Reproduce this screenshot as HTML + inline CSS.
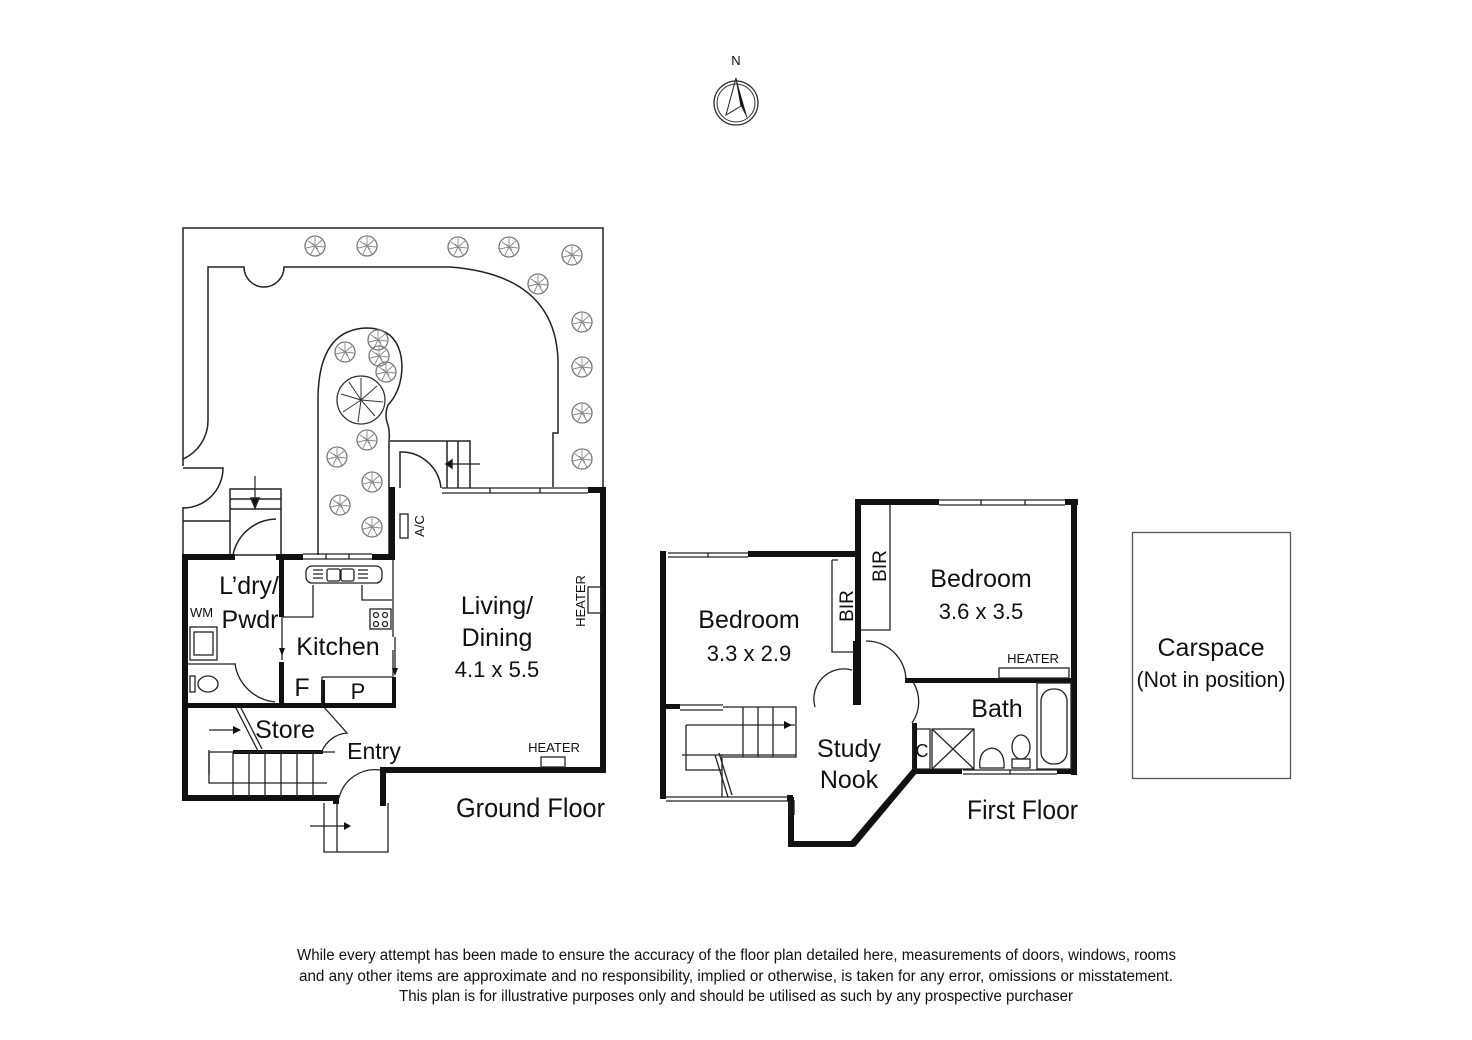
<!DOCTYPE html>
<html><head><meta charset="utf-8"><style>
html,body{margin:0;padding:0;background:#fff;}
svg{display:block;}
text{font-family:"Liberation Sans Narrow","Liberation Sans",sans-serif;fill:#111;}
</style></head><body>
<svg width="1472" height="1040" viewBox="0 0 1472 1040" xmlns="http://www.w3.org/2000/svg">
<defs>
<g id="tr"><circle r="10" fill="none" stroke="#777" stroke-width="1.3"/><path d="M0 0L0-9M0 0L7-6M0 0L9 1M0 0L5 8M0 0L-4 8M0 0L-9 2M0 0L-7-5M-3-3L3 3" stroke="#888" stroke-width="0.9"/></g>
</defs>
<!-- compass -->
<text x="736" y="65" font-size="13" text-anchor="middle">N</text>
<circle cx="736" cy="103" r="22" fill="none" stroke="#333" stroke-width="1.3"/>
<circle cx="736" cy="103" r="19" fill="none" stroke="#333" stroke-width="1"/>
<path d="M736 78L726 115L741 106Z" fill="none" stroke="#222" stroke-width="1"/>
<path d="M736 78L748 120L741 106Z" fill="#111"/>

<g fill="none" stroke="#222" stroke-width="1.5">
<path d="M183 466V228H603V490"/>
<path d="M183 507V555"/>
<path d="M183 468H223A40 40 0 0 1 183 508"/>
<path d="M183 459A42 42 0 0 0 208 420V267H244A20 20 0 0 0 284 267H450Q555 275 558 360V433H553V487"/>
<path d="M318 555V400Q318 330 366 328Q400 328 402 365Q402 390 388 405Q384 415 388 425Q390 432 389 441V555"/>
<rect x="230" y="489" width="51" height="66"/>
<path d="M230 499H281M230 509H281M183 521H230"/>
<path d="M255 476V505" stroke-width="1.2"/>
<path d="M251 498L255 508L259 498Z" fill="#111"/>
<path d="M390 441H470V488M447 441V488M458 441V488"/>
<path d="M480 464H452" stroke-width="1.2"/>
<path d="M452 460L446 464L452 468Z" fill="#111"/>
<path d="M400 488V452A40 40 0 0 1 441 488"/>
<path d="M233 555A45 45 0 0 1 276 519"/>
</g>
<g>
<use href="#tr" x="315" y="246"/><use href="#tr" x="367" y="246"/><use href="#tr" x="458" y="247"/><use href="#tr" x="509" y="247"/><use href="#tr" x="572" y="255"/><use href="#tr" x="538" y="284"/><use href="#tr" x="582" y="322"/><use href="#tr" x="582" y="367"/><use href="#tr" x="582" y="413"/><use href="#tr" x="582" y="459"/>
<use href="#tr" x="345" y="352"/><use href="#tr" x="378" y="340"/><use href="#tr" x="379" y="356"/><use href="#tr" x="386" y="372"/>
<use href="#tr" x="367" y="440"/><use href="#tr" x="337" y="457"/><use href="#tr" x="372" y="482"/><use href="#tr" x="340" y="505"/><use href="#tr" x="372" y="527"/>
<circle cx="361" cy="400" r="24" fill="none" stroke="#333" stroke-width="1.3"/>
<path d="M361 400l0-22M361 400l16-14M361 400l22 2M361 400l14 16M361 400l-3 22M361 400l-18 12M361 400l-20-6M361 400l-12-18" stroke="#333" stroke-width="1"/>
</g>

<g fill="#111">
<rect x="182" y="555" width="6" height="246"/>
<rect x="182" y="795" width="157" height="6"/>
<rect x="182" y="554" width="53" height="6"/>
<rect x="276" y="554" width="27" height="6"/>
<rect x="372" y="554" width="23" height="6"/>
<rect x="389" y="487" width="6" height="73"/>
<rect x="279" y="557" width="5" height="60"/>
<rect x="279" y="662" width="5" height="45"/>
<rect x="182" y="703" width="214" height="5"/>
<rect x="588" y="487" width="18" height="6"/>
<rect x="600" y="487" width="6" height="286"/>
<rect x="383" y="767" width="223" height="6"/>
<rect x="380" y="767" width="6" height="39"/>
<rect x="233" y="750" width="90" height="4"/>
<rect x="321" y="680" width="4" height="28"/>
<rect x="392" y="677" width="4" height="30"/>
<rect x="333" y="797" width="6" height="7"/>
</g>
<g fill="none" stroke="#222" stroke-width="1.3">
<path d="M303 554H372M303 559H372M326 554v5M349 554v5"/>
<path d="M442 488H588M442 493H588M490 488v5M540 488v5"/>
<path d="M393 560V637M393 650V677"/>
<rect x="306" y="566" width="76" height="17" rx="6"/>
<rect x="327" y="569" width="13" height="12" rx="2"/><rect x="341" y="569" width="13" height="12" rx="2"/>
<path d="M313 570h10M313 574h10M313 578h10M358 570h10M358 574h10M358 578h10"/>
<path d="M313 585V617H283M362 585V600H392"/>
<rect x="370" y="609" width="21" height="20"/>
<circle cx="376" cy="615" r="2.5"/><circle cx="385" cy="615" r="2.5"/><circle cx="376" cy="624" r="2.5"/><circle cx="385" cy="624" r="2.5"/>
<path d="M282 617V660M395 637V668"/>
<rect x="190" y="627" width="27" height="33"/><rect x="194" y="632" width="19" height="23"/>
<path d="M188 664H236"/>
<path d="M275 702A45 45 0 0 1 235 664"/>
<ellipse cx="208" cy="684" rx="10" ry="8"/><rect x="190" y="676" width="5" height="16"/>
<path d="M322 677V705M322 677H392"/>
<path d="M322 705L347 733A30 30 0 0 0 322 751"/>
<path d="M236 708L258 751M240 706L262 749"/>
<path d="M209 752H335M209 752V775M209 730H233"/>
<path d="M209 750V783H327M233 752V797M249 752V797M265 752V797M281 752V797M297 752V797M313 752V797"/>
<path d="M339 798A37 37 0 0 1 380 770"/>
<path d="M324 803V852H388V803M337 803V852"/>
<path d="M310 826H345"/>
<rect x="400" y="514" width="8" height="24"/>
<rect x="588" y="587" width="13" height="26"/>
<rect x="541" y="757" width="24" height="10"/>
</g>
<path d="M233 726l8 4-8 4Z" fill="#111"/>
<path d="M344 822l7 4-7 4Z" fill="#111"/>
<path d="M279 648h6l-3 8Z" fill="#111"/>
<path d="M392 668h6l-3 8Z" fill="#111"/>

<g fill="#111">
<rect x="660" y="551" width="6" height="248"/>
<rect x="748" y="551" width="112" height="6"/>
<rect x="855" y="499" width="6" height="142"/>
<rect x="853" y="641" width="8" height="64"/>
<rect x="855" y="499" width="84" height="6"/>
<rect x="1065" y="499" width="13" height="6"/>
<rect x="1071" y="499" width="6" height="276"/>
<rect x="905" y="678" width="172" height="5"/>
<rect x="912" y="723" width="5" height="50"/>
<rect x="912" y="769" width="50" height="5"/>
<rect x="1057" y="769" width="20" height="5"/>
<rect x="660" y="704" width="20" height="5"/>
<rect x="788" y="797" width="6" height="50"/>
<rect x="788" y="841" width="66" height="6"/>
<path d="M913 768L917 773L855 847L850 842Z"/>
<rect x="787" y="795" width="6" height="6"/>
</g>
<g fill="none" stroke="#222" stroke-width="1.3">
<path d="M668 553H748M668 557H748M708 553v4"/>
<path d="M939 500H1065M939 505H1065M981 500v5M1025 500v5"/>
<path d="M832 560V652H855M832 560H838"/>
<path d="M890 505V630H861"/>
<path d="M680 705H723M680 710H723"/>
<path d="M666 797H788M666 801H788"/>
<path d="M963 770H1057M963 774H1057M1010 770v4"/>
<path d="M723 707H796V757H723M743 707V757M758 707V757M773 707V757"/>
<path d="M686 725H795M686 725V770H722M682 755H796M722 755V797"/>
<path d="M715 755L728 797M719 753L732 795"/>
<path d="M815 707A30 30 0 0 1 852 670"/>
<path d="M866 641A40 40 0 0 1 906 680"/>
<path d="M912 723A37 37 0 0 0 913 682"/>
<rect x="913" y="729" width="17" height="40"/>
<rect x="932" y="729" width="42" height="40"/><path d="M932 729L974 769M974 729L932 769"/>
<path d="M980 768Q978 750 992 748Q1005 750 1004 768Z"/>
<ellipse cx="1021" cy="747" rx="9" ry="12"/><rect x="1012" y="759" width="18" height="9"/>
<rect x="1037" y="683" width="34" height="86"/>
<rect x="1041" y="689" width="26" height="75" rx="12"/>
<rect x="999" y="668" width="70" height="10"/>
<path d="M790 800V815M794 800V815"/>
<rect x="1132.5" y="532.5" width="158" height="246" stroke="#555"/>
</g>
<path d="M792 725l-8-4v8Z" fill="#111"/>

<g font-size="25">
<text x="249" y="594" text-anchor="middle">L’dry/</text>
<text x="250" y="628" text-anchor="middle">Pwdr</text>
<text x="190" y="617" font-size="13">WM</text>
<text x="338" y="655" text-anchor="middle">Kitchen</text>
<text x="302" y="696" text-anchor="middle">F</text>
<text x="358" y="699" text-anchor="middle" font-size="22">P</text>
<text x="285" y="738" text-anchor="middle">Store</text>
<text x="374" y="759" text-anchor="middle" font-size="23">Entry</text>
<text x="497" y="614" text-anchor="middle">Living/</text>
<text x="497" y="646" text-anchor="middle">Dining</text>
<text x="497" y="677" text-anchor="middle" font-size="22">4.1 x 5.5</text>
<text x="554" y="752" text-anchor="middle" font-size="13">HEATER</text>
<text transform="translate(585 601) rotate(-90)" text-anchor="middle" font-size="13">HEATER</text>
<text transform="translate(424 526) rotate(-90)" text-anchor="middle" font-size="13">A/C</text>
<text x="456" y="817" font-size="27" textLength="149" lengthAdjust="spacingAndGlyphs">Ground Floor</text>
<text x="749" y="628" text-anchor="middle">Bedroom</text>
<text x="749" y="661" text-anchor="middle" font-size="22">3.3 x 2.9</text>
<text x="981" y="587" text-anchor="middle">Bedroom</text>
<text x="981" y="619" text-anchor="middle" font-size="22">3.6 x 3.5</text>
<text transform="translate(853 606) rotate(-90)" text-anchor="middle" font-size="19">BIR</text>
<text transform="translate(886 566) rotate(-90)" text-anchor="middle" font-size="19">BIR</text>
<text x="1033" y="663" text-anchor="middle" font-size="13">HEATER</text>
<text x="997" y="717" text-anchor="middle">Bath</text>
<text x="922" y="757" text-anchor="middle" font-size="18">C</text>
<text x="849" y="757" text-anchor="middle">Study</text>
<text x="849" y="788" text-anchor="middle">Nook</text>
<text x="967" y="819" font-size="27" textLength="111" lengthAdjust="spacingAndGlyphs">First Floor</text>
<text x="1211" y="656" text-anchor="middle">Carspace</text>
<text x="1211" y="687" text-anchor="middle" font-size="22" textLength="149" lengthAdjust="spacingAndGlyphs">(Not in position)</text>
</g>
<g font-size="15.5">
<text x="297" y="960" textLength="879" lengthAdjust="spacingAndGlyphs">While every attempt has been made to ensure the accuracy of the floor plan detailed here, measurements of doors, windows, rooms</text>
<text x="299" y="981" textLength="874" lengthAdjust="spacingAndGlyphs">and any other items are approximate and no responsibility, implied or otherwise, is taken for any error, omissions or misstatement.</text>
<text x="399" y="1001" textLength="674" lengthAdjust="spacingAndGlyphs">This plan is for illustrative purposes only and should be utilised as such by any prospective purchaser</text>
</g>
</svg>
</body></html>
